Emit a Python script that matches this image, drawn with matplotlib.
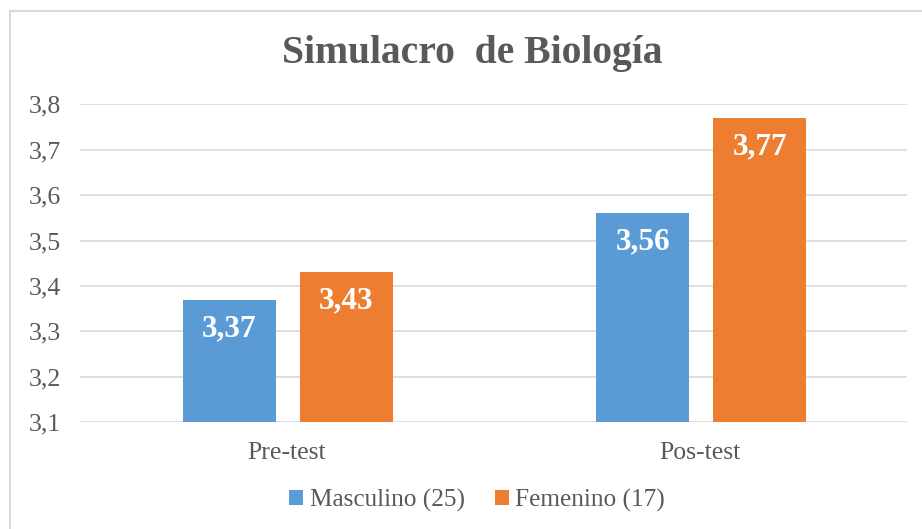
import matplotlib.pyplot as plt
import numpy as np
from matplotlib.patches import Rectangle

categories = ['Pre-test', 'Pos-test']
series_names = ['Masculino (25)', 'Femenino (17)']
masculino = [3.37, 3.56]
femenino = [3.43, 3.77]
labels_m = ['3,37', '3,56']
labels_f = ['3,43', '3,77']
yticks = [3.1, 3.2, 3.3, 3.4, 3.5, 3.6, 3.7, 3.8]
ytick_labels = ['3,1', '3,2', '3,3', '3,4', '3,5', '3,6', '3,7', '3,8']

plt.rcParams['font.family'] = ['Liberation Serif', 'DejaVu Serif']

blue = '#5B9BD5'
orange = '#ED7D31'
text_gray = '#595959'

fig = plt.figure(figsize=(9.22, 5.29), dpi=100)
ax = fig.add_axes([80/922, 1 - 422.3/529, 827/922, 318/529])

x = np.arange(len(categories))
w = 0.225
b1 = ax.bar(x - 0.139, [v - 3.1 for v in masculino], w, bottom=3.1, color=blue, label=series_names[0], zorder=3)
b2 = ax.bar(x + 0.144, [v - 3.1 for v in femenino], w, bottom=3.1, color=orange, label=series_names[1], zorder=3)

# etiquetas dentro de las barras
for bars, vals, labs in [(b1, masculino, labels_m), (b2, femenino, labels_f)]:
    for bar, v, lab in zip(bars, vals, labs):
        ax.annotate(lab, (bar.get_x() + bar.get_width() / 2, v), xytext=(0, -29),
                    textcoords='offset pixels', ha='center', va='center',
                    color='white', fontsize=22.5, fontweight='bold', zorder=4)

ax.set_xlim(-0.5, 1.5)
ax.set_ylim(3.1, 3.8)
ax.set_yticks(yticks)
ax.set_yticklabels(ytick_labels)
ax.set_xticks(x)
ax.set_xticklabels(categories)
ax.tick_params(axis='both', length=0, labelsize=18.5, colors=text_gray)
ax.tick_params(axis='y', pad=14)
ax.tick_params(axis='x', pad=14)
ax.grid(axis='y', color='#D9D9D9', linewidth=1.2, zorder=0)
for s in ax.spines.values():
    s.set_visible(False)

fig.text(0.512, 1 - 54/529, 'Simulacro  de Biología', ha='center', va='center',
         fontsize=28.5, fontweight='bold', color=text_gray)

leg = fig.legend(loc='center', bbox_to_anchor=(0.5174, 1 - 500/529), ncol=2, frameon=False,
                 fontsize=18.2, handlelength=0.55, handleheight=0.55, handletextpad=0.25,
                 columnspacing=1.2, labelcolor=text_gray)

fig.patches.append(Rectangle((10/922, -0.1), 2, 1.1 - 11/529, transform=fig.transFigure,
                             facecolor='none', edgecolor='#D9D9D9', linewidth=1.5))

fig.savefig('out.png', dpi=100)
